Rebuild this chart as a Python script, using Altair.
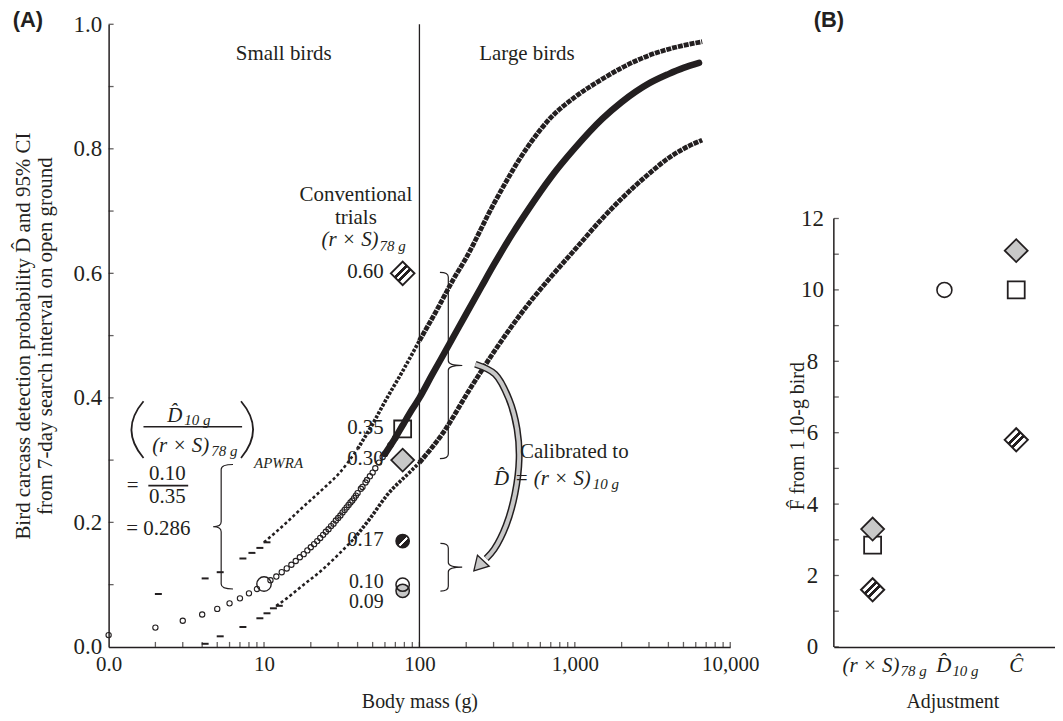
import altair as alt
import pandas as pd

SERIF = "Liberation Serif"
SANS = "Liberation Sans"
INK = "#231f20"
GRAY = "#c8c8c8"

# ---------------- Panel A data (body mass g, detection probability) ----------------
circ_mass = [1, 2, 3, 4, 5, 6, 7, 8, 9, 11, 12, 13, 14, 15, 16, 17, 18, 19, 20,
             21, 22, 23, 24, 25, 26, 27, 28, 29, 30, 31, 32, 33, 34, 35, 36, 37, 38, 39, 40,
             42, 43, 45, 46, 48, 50, 52, 55, 58, 60, 65, 70]
circ_p = [0.019, 0.031, 0.042, 0.052, 0.061, 0.070, 0.078, 0.086, 0.093,
          0.107, 0.113, 0.120, 0.126, 0.132, 0.138, 0.144, 0.149, 0.155, 0.160,
          0.165, 0.170, 0.175, 0.180, 0.185, 0.189, 0.194, 0.198, 0.203, 0.207,
          0.211, 0.216, 0.220, 0.224, 0.228, 0.232, 0.235, 0.239, 0.243, 0.247,
          0.254, 0.257, 0.264, 0.268, 0.274, 0.280, 0.287, 0.296, 0.305, 0.310,
          0.324, 0.336]
big_mass = [10]
big_p = [0.101]
mid_mass = [60, 70, 78, 90, 100, 120, 150, 200, 250, 300, 400, 500, 700, 1000, 1500,
            2000, 3000, 4000, 5000, 6300]
mid_p = [0.310, 0.336, 0.356, 0.382, 0.400, 0.436, 0.479, 0.535, 0.578, 0.613, 0.665,
         0.702, 0.754, 0.801, 0.848, 0.875, 0.905, 0.920, 0.930, 0.938]

upper_dash_mass = [2, 4, 5, 7, 8, 9, 10]
upper_dash_p = [0.085, 0.110, 0.120, 0.142, 0.151, 0.159, 0.168]
lower_dash_mass = [4, 5, 7, 9, 10, 11, 12]
lower_dash_p = [0.005, 0.017, 0.032, 0.046, 0.054, 0.062, 0.066]

upper_mass = [10, 12, 14, 17, 20, 25, 30, 40, 50, 60, 78, 100, 130, 165, 200, 300, 500,
              700, 1000, 1500, 2000, 3000, 4000, 5000, 6600]
upper_p = [0.168, 0.185, 0.200, 0.220, 0.236, 0.258, 0.277, 0.318, 0.358, 0.394, 0.443,
           0.492, 0.542, 0.590, 0.625, 0.711, 0.804, 0.850, 0.883, 0.912, 0.930, 0.950,
           0.960, 0.966, 0.972]
lower_mass = [12, 14, 18, 23, 30, 38, 48, 62, 87, 100, 143, 211, 300, 500, 700, 1000,
              1500, 2000, 3000, 4000, 5000, 6600]
lower_p = [0.066, 0.078, 0.100, 0.121, 0.148, 0.174, 0.206, 0.244, 0.281, 0.296, 0.345,
           0.414, 0.473, 0.550, 0.594, 0.638, 0.688, 0.720, 0.760, 0.785, 0.800, 0.814]

trial_mass = 78
trial_labels = ["0.60", "0.35", "0.30", "0.17", "0.10", "0.09"]
trial_values = [0.60, 0.35, 0.30, 0.17, 0.10, 0.09]

divider_mass = [100]
x_major = [1, 10, 100, 1000, 10000]
x_minor = [2, 3, 4, 5, 6, 7, 8, 9, 10, 20, 30, 40, 50, 60, 70, 80, 90, 100,
           200, 300, 400, 500, 600, 700, 800, 900, 1000, 2000, 3000, 4000, 5000,
           6000, 7000, 8000, 9000, 10000]
y_major = [0.0, 0.2, 0.4, 0.6, 0.8, 1.0]
y_minor = [0.1, 0.2, 0.3, 0.4, 0.5, 0.6, 0.7, 0.8, 0.9, 1.0]

# curved calibration arrow (mass, probability)
arrow_mass = [229, 307, 377, 425, 438, 412, 361, 303, 269]
arrow_p = [0.454, 0.438, 0.398, 0.350, 0.302, 0.246, 0.195, 0.157, 0.142]
arrow_head_mass = [246]
arrow_head_p = [0.133]

# ---------------- Panel B data ----------------
adj_codes = ["rs78", "d10", "c"]
b_adj = ["rs78", "rs78", "rs78", "d10", "c", "c", "c"]
b_F = [3.3, 2.85, 1.6, 10.0, 11.1, 10.0, 5.8]
b_style = ["gray", "square", "hatch", "circle", "gray", "square", "hatch"]
b_yticks = list(range(0, 13))
b_ylabels = [0, 2, 4, 6, 8, 10, 12]

HATCH_D = alt.LinearGradient(
    gradient="linear", x1=0, y1=0, x2=1, y2=1,
    stops=[
        alt.GradientStop(color="white", offset=0),
        alt.GradientStop(color="white", offset=0.38),
        alt.GradientStop(color=INK, offset=0.38),
        alt.GradientStop(color=INK, offset=0.46),
        alt.GradientStop(color="white", offset=0.46),
        alt.GradientStop(color="white", offset=0.53),
        alt.GradientStop(color=INK, offset=0.53),
        alt.GradientStop(color=INK, offset=0.62),
        alt.GradientStop(color="white", offset=0.62),
        alt.GradientStop(color="white", offset=1),
    ],
)
HATCH_C = alt.LinearGradient(
    gradient="linear", x1=0, y1=0, x2=1, y2=1,
    stops=[
        alt.GradientStop(color=INK, offset=0),
        alt.GradientStop(color=INK, offset=0.5),
        alt.GradientStop(color="white", offset=0.5),
        alt.GradientStop(color="white", offset=0.6),
        alt.GradientStop(color=INK, offset=0.6),
        alt.GradientStop(color=INK, offset=1),
    ],
)

# ---------------- Panel A encodings ----------------
axA_x = alt.Axis(values=x_major,
                 labelExpr="datum.value == 1 ? '0.0' : format(datum.value, ',')",
                 ticks=False, grid=False, domainColor=INK, domainWidth=1.5,
                 labelFont=SERIF, labelFontSize=21, labelColor=INK, labelPadding=7,
                 labelFlush=False, labelOverlap=False,
                 title="Body mass (g)", titleFont=SERIF, titleFontSize=20,
                 titleFontWeight="normal", titleColor=INK, titlePadding=17)
axA_y = alt.Axis(values=y_major, format=".1f", ticks=False, grid=False,
                 domainColor=INK, domainWidth=1.5,
                 labelFont=SERIF, labelFontSize=23, labelColor=INK, labelPadding=7,
                 labelFlush=False,
                 title=["Bird carcass detection probability D\u0302 and 95% CI",
                        "from 7-day search interval on open ground"],
                 titleFont=SERIF, titleFontSize=21, titleFontWeight="normal",
                 titleColor=INK, titlePadding=18, titleLineHeight=22)


def encA():
    return dict(
        x=alt.X("m:Q", scale=alt.Scale(type="log", domain=[1, 10000], nice=False), axis=axA_x),
        y=alt.Y("p:Q", scale=alt.Scale(domain=[0, 1], nice=False), axis=axA_y),
    )


def dfA(ms, ps, **extra):
    d = {"m": ms, "p": ps}
    d.update(extra)
    return pd.DataFrame(d)


def tA(texts, ms, ps, size=21, align="center", baseline="middle", dx=0, dy=0,
       style="normal", font=SERIF, weight="normal"):
    return alt.Chart(dfA(ms, ps, t=texts)).mark_text(
        font=font, fontSize=size, align=align, baseline=baseline, dx=dx, dy=dy,
        fontStyle=style, fontWeight=weight, color=INK
    ).encode(**encA(), text="t:N")


def symA(ms, ps, shape, size, sw=1.5, color=INK):
    return alt.Chart(dfA(ms, ps)).mark_point(
        shape=shape, size=size, filled=False, stroke=color, strokeWidth=sw, opacity=1
    ).encode(**encA())


layersA = []
# divider and inside ticks
layersA.append(alt.Chart(dfA(divider_mass, [0.5])).mark_rule(color=INK, strokeWidth=1.3).encode(x=encA()["x"]))
layersA.append(alt.Chart(dfA(x_minor, [0.0] * len(x_minor))).mark_tick(
    orient="vertical", size=5, thickness=1.3, color=INK, yOffset=-2.5).encode(**encA()))
layersA.append(alt.Chart(dfA([1] * len(y_minor), y_minor)).mark_tick(
    orient="horizontal", size=5, thickness=1.3, color=INK, xOffset=2.5).encode(**encA()))

# confidence limits
up = dfA(upper_mass, upper_p)
lo = dfA(lower_mass, lower_p)
for d, lo_m, hi_m, dash, w in [
    (up, 10, 40, [3, 2.5], 2.6), (up, 40, 100, [3, 1.5], 3.6), (up, 100, 10000, [5, 1], 4.8),
    (lo, 12, 38, [3, 2.5], 2.6), (lo, 38, 100, [3, 1.5], 3.6), (lo, 100, 10000, [5, 1], 4.8),
]:
    seg = d[(d.m >= lo_m) & (d.m <= hi_m)]
    layersA.append(alt.Chart(seg).mark_line(color=INK, strokeWidth=w, strokeDash=dash,
                                            interpolate="monotone").encode(**encA()))
layersA.append(symA(upper_dash_mass, upper_dash_p, "M-0.15,0L1.85,0", 49, sw=2))
layersA.append(symA(lower_dash_mass, lower_dash_p, "M-0.15,0L1.85,0", 49, sw=2))

# central estimate
layersA.append(alt.Chart(dfA(mid_mass, mid_p)).mark_line(
    color=INK, strokeWidth=6.5, strokeCap="round", interpolate="monotone").encode(**encA()))
layersA.append(symA(circ_mass, circ_p, "circle", 28, sw=1.1))
layersA.append(symA(big_mass, big_p, "circle", 210, sw=1.4))

# conventional-trial markers at 78 g
tm = [trial_mass]
layersA.append(alt.Chart(dfA(tm, [trial_values[0]])).mark_point(
    shape="diamond", size=560, filled=True, fill=HATCH_D, stroke=INK, strokeWidth=2, opacity=1).encode(**encA()))
layersA.append(symA(tm, [trial_values[1]], "square", 289, sw=1.8))
layersA.append(alt.Chart(dfA(tm, [trial_values[2]])).mark_point(
    shape="diamond", size=530, filled=True, fill=GRAY, stroke=INK, strokeWidth=1.8, opacity=1).encode(**encA()))
layersA.append(alt.Chart(dfA(tm, [trial_values[3]])).mark_point(
    shape="circle", size=170, filled=True, fill=HATCH_C, stroke=INK, strokeWidth=1.8, opacity=1).encode(**encA()))
layersA.append(alt.Chart(dfA(tm, [trial_values[5]])).mark_point(
    shape="circle", size=180, filled=True, fill=GRAY, stroke=INK, strokeWidth=1.5, opacity=1).encode(**encA()))
layersA.append(symA(tm, [trial_values[4]], "circle", 180, sw=1.5))
layersA.append(tA(trial_labels[:4], [trial_mass] * 4, trial_values[:4], size=21, align="right", dx=-19, dy=-1))
layersA.append(tA(trial_labels[4:5], [trial_mass], trial_values[4:5], size=20, align="right", dx=-19, dy=-3))
layersA.append(tA(trial_labels[5:], [trial_mass], trial_values[5:], size=20, align="right", dx=-19, dy=11))

# region labels and trial heading
layersA.append(tA(["Small birds", "Large birds"], [13.4, 492], [0.952, 0.952]))
layersA.append(tA(["Conventional", "trials"], [39, 39], [0.725, 0.689]))
layersA.append(tA(["(r \u00d7 S)"], [54.6], [0.653], align="right", style="italic"))
layersA.append(tA(["78 g"], [54.6], [0.653], size=15, align="left", dx=1, dy=6, style="italic"))

# left formula
layersA.append(symA([1.51], [0.349], "M0.25,-1Q-0.6,0 0.25,1", 3249, sw=1.8))
layersA.append(symA([7.9], [0.349], "M-0.25,-1Q0.6,0 -0.25,1", 3249, sw=1.8))
layersA.append(tA(["D\u0302"], [2.98], [0.371], align="right", style="italic"))
layersA.append(tA(["10 g"], [2.98], [0.371], size=15, align="left", dx=2, dy=4, style="italic"))
layersA.append(symA([3.48], [0.3536], "M-1,0L1,0", 9801, sw=1.6))
layersA.append(tA(["(r \u00d7 S)"], [4.44], [0.323], align="right", style="italic"))
layersA.append(tA(["78 g"], [4.44], [0.323], size=15, align="left", dx=2, dy=5, style="italic"))
layersA.append(tA(["APWRA"], [8.63], [0.296], size=15, align="left", style="italic"))
layersA.append(tA(["="], [1.425], [0.259]))
layersA.append(tA(["0.10", "0.35"], [2.39, 2.39], [0.277, 0.240]))
layersA.append(symA([2.42], [0.259], "M-1,0L1,0", 1600, sw=1.6))
layersA.append(tA(["= 0.286"], [1.30], [0.189], align="left"))

# braces
layersA.append(symA([5.30], [0.193], "M0.19,-1Q0,-1 0,-0.92L0,-0.08Q0,0 -0.13,0Q0,0 0,0.08L0,0.92Q0,1 0.19,1", 15625, sw=1.2))
layersA.append(symA([153.4], [0.452], "M-0.09,-1Q0,-1 0,-0.95L0,-0.05Q0,0 0.15,0Q0,0 0,0.05L0,0.95Q0,1 -0.09,1", 34969, sw=1.2))
layersA.append(symA([153.4], [0.128], "M-0.33,-1Q0,-1 0,-0.8L0,-0.2Q0,0 0.58,0Q0,0 0,0.2L0,0.8Q0,1 -0.33,1", 2304, sw=1.2))

# calibration arrow
arr = dfA(arrow_mass, arrow_p, o=list(range(len(arrow_mass))))
layersA.append(alt.Chart(arr).mark_line(color=INK, strokeWidth=7, strokeCap="butt",
                                        interpolate="catmull-rom").encode(**encA(), order="o:Q"))
layersA.append(alt.Chart(arr).mark_line(color=GRAY, strokeWidth=4, strokeCap="butt",
                                        interpolate="catmull-rom").encode(**encA(), order="o:Q"))
layersA.append(alt.Chart(dfA(arrow_head_mass, arrow_head_p)).mark_point(
    shape="triangle", size=260, angle=223, filled=True, fill=GRAY, stroke=INK, strokeWidth=1.3, opacity=1).encode(**encA()))
layersA.append(tA(["Calibrated to"], [444], [0.3136], align="left"))
layersA.append(tA(["D\u0302 = (r \u00d7 S)"], [1267], [0.269], align="right", style="italic"))
layersA.append(tA(["10 g"], [1267], [0.269], size=15, align="left", dx=2, dy=5, style="italic"))

# panel tag
layersA.append(alt.Chart(pd.DataFrame({"t": ["(A)"]})).mark_text(
    font=SANS, fontSize=22, fontWeight="bold", color=INK, align="center", baseline="middle"
).encode(x=alt.value(-81), y=alt.value(-4), text="t:N"))

panelA = alt.layer(*layersA).properties(width=624, height=625)

# ---------------- Panel B ----------------
axB_x = alt.Axis(labels=False, ticks=False, grid=False, domainColor=INK, domainWidth=1.5,
                 title="Adjustment", titleFont=SERIF, titleFontSize=20, titleFontWeight="normal",
                 titleColor=INK, titlePadding=45, titleX=119)
axB_y = alt.Axis(values=b_ylabels, domain=False, ticks=False, grid=False,
                 labelFont=SERIF, labelFontSize=23, labelColor=INK, labelAlign="center",
                 labelPadding=22,
                 title="F\u0302 from 1 10-g bird", titleFont=SERIF, titleFontSize=20,
                 titleFontWeight="normal", titleColor=INK, titleAngle=270,
                 titleX=-36, titleY=413, titleBaseline="middle", titleAlign="center")


def encB():
    return dict(
        x=alt.X("adj:N", scale=alt.Scale(type="point", domain=adj_codes, padding=0.54), axis=axB_x),
        y=alt.Y("F:Q", scale=alt.Scale(domain=[0, 17.44], nice=False), axis=axB_y),
    )


bdf = pd.DataFrame({"adj": b_adj, "F": b_F, "s": b_style})
layersB = []
layersB.append(alt.Chart(pd.DataFrame({"adj": ["rs78"], "F": [0], "F2": [12]})).mark_rule(
    color=INK, strokeWidth=1.5).encode(x=alt.value(0), y=encB()["y"], y2="F2:Q"))
layersB.append(alt.Chart(pd.DataFrame({"adj": ["rs78"] * 13, "F": b_yticks})).mark_tick(
    orient="horizontal", size=5, thickness=1.3, color=INK, xOffset=2.5).encode(x=alt.value(0), y=encB()["y"]))
layersB.append(alt.Chart(bdf[bdf.s == "hatch"]).mark_point(
    shape="diamond", size=540, filled=True, fill=HATCH_D, stroke=INK, strokeWidth=2, opacity=1).encode(**encB()))
layersB.append(alt.Chart(bdf[bdf.s == "square"]).mark_point(
    shape="square", size=290, filled=False, stroke=INK, strokeWidth=1.8, opacity=1).encode(**encB()))
layersB.append(alt.Chart(bdf[bdf.s == "gray"]).mark_point(
    shape="diamond", size=530, filled=True, fill=GRAY, stroke=INK, strokeWidth=1.8, opacity=1).encode(**encB()))
layersB.append(alt.Chart(bdf[bdf.s == "circle"]).mark_point(
    shape="circle", size=225, filled=False, stroke=INK, strokeWidth=1.6, opacity=1).encode(**encB()))


def tB(text, code, size=21, align="center", dx=0, dy=0, style="italic"):
    return alt.Chart(pd.DataFrame({"adj": [code], "t": [text]})).mark_text(
        font=SERIF, fontSize=size, align=align, baseline="middle", dx=dx, dy=dy,
        fontStyle=style, color=INK
    ).encode(x=encB()["x"], y=alt.value(644), text="t:N")


layersB.append(tB("(r \u00d7 S)", "rs78", align="right", dx=27))
layersB.append(tB("78 g", "rs78", size=15, align="left", dx=28, dy=5))
layersB.append(tB("D\u0302", "d10", align="right", dx=7))
layersB.append(tB("10 g", "d10", size=15, align="left", dx=8, dy=5))
layersB.append(tB("\u0108", "c"))
layersB.append(alt.Chart(pd.DataFrame({"t": ["(B)"]})).mark_text(
    font=SANS, fontSize=22, fontWeight="bold", color=INK, align="center", baseline="middle"
).encode(x=alt.value(-5), y=alt.value(-4), text="t:N"))

panelB = alt.layer(*layersB).properties(width=222, height=625)

chart = alt.hconcat(panelA, panelB, spacing=29).properties(
    padding={"left": 4, "top": 0, "right": 0, "bottom": 0}
).configure_view(stroke=None)

chart.save("out.html", embed_options={"renderer": "svg", "actions": False})
